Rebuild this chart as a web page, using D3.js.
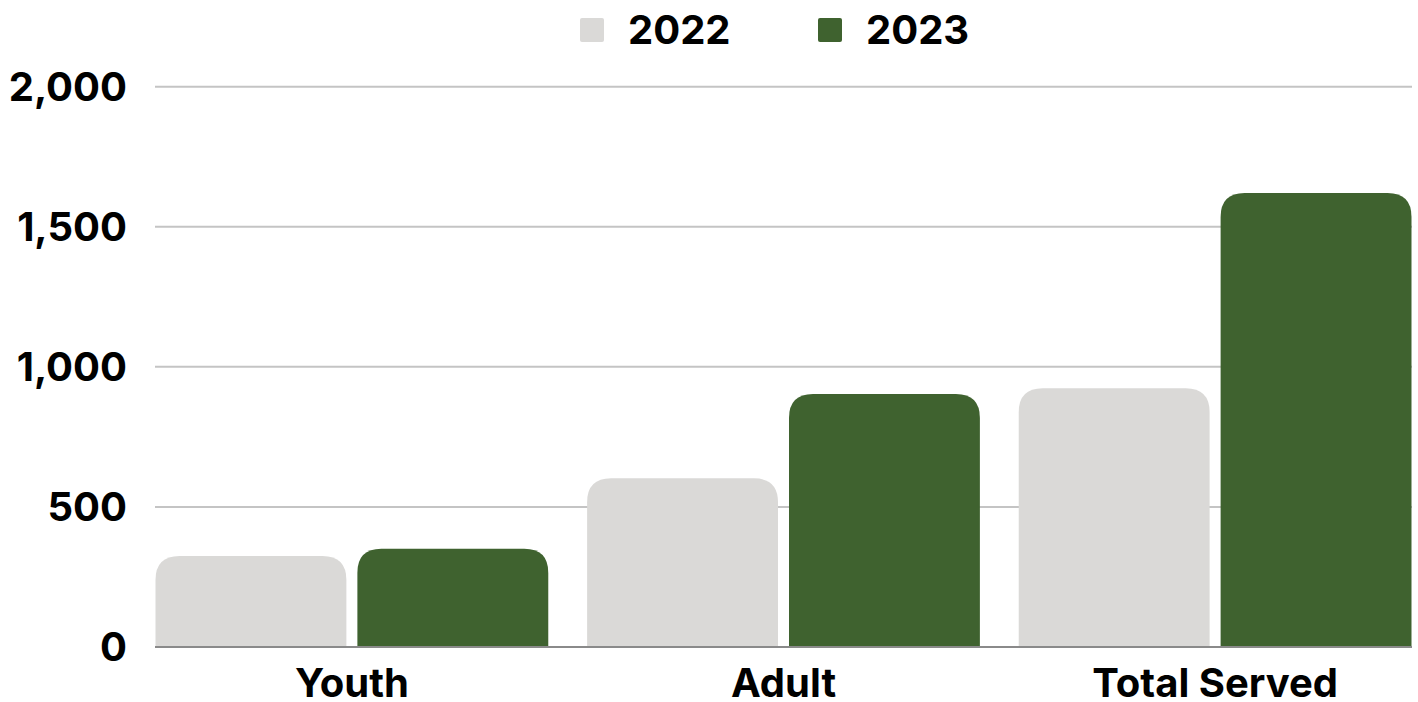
<!DOCTYPE html>
<meta charset="utf-8">
<style>
    body { margin: 0; background: #fff; }
    text { font-family: Inter, "Liberation Sans", sans-serif; font-weight: 700; fill: #000; }
    .grid line { stroke: #c4c4c4; stroke-width: 2px; }
</style>
<body>
<script src="https://d3js.org/d3.v7.min.js"></script>
<script>
    var categories = ["Youth", "Adult", "Total Served"];
    var years = ["2022", "2023"];
    var values2022 = [325, 602, 924];
    var values2023 = [351, 903, 1621];
    var yTicks = [0, 500, 1000, 1500, 2000];
    var colors = { "2022": "#dad9d7", "2023": "#3f622f" };

    var W = 1418, H = 702;
    var svg = d3.select("body").append("svg").attr("width", W).attr("height", H);

    var y = d3.scaleLinear().domain([0, 2000]).range([647, 86.7]);
    var x0 = d3.scaleBand().domain(categories).range([155.5, 1411.5]).paddingInner(0.09).paddingOuter(0);
    var x1 = d3.scaleBand().domain(years).range([0, x0.bandwidth()]).paddingInner(0.0545);

    // gridlines
    svg.append("g").attr("class", "grid")
        .selectAll("line").data(yTicks.slice(1)).join("line")
        .attr("x1", 155).attr("x2", 1412)
        .attr("y1", d => y(d)).attr("y2", d => y(d));

    // y labels
    svg.append("g").selectAll("text").data(yTicks).join("text")
        .attr("x", 127).attr("y", d => y(d))
        .attr("dy", "0.36em")
        .attr("text-anchor", "end")
        .style("font-size", "40px")
        .text(d => d3.format(",")(d));

    var rows = categories.map((c, i) => ({ cat: c, "2022": values2022[i], "2023": values2023[i] }));

    function topRounded(x, yTop, w, h, r) {
        r = Math.min(r, w / 2, h);
        return "M" + x + "," + (yTop + h) +
            "V" + (yTop + r) +
            "Q" + x + "," + yTop + " " + (x + r) + "," + yTop +
            "H" + (x + w - r) +
            "Q" + (x + w) + "," + yTop + " " + (x + w) + "," + (yTop + r) +
            "V" + (yTop + h) + "Z";
    }

    var groups = svg.append("g").selectAll("g").data(rows).join("g")
        .attr("transform", d => "translate(" + x0(d.cat) + ",0)");

    groups.selectAll("path").data(d => years.map(k => ({ key: k, value: d[k] }))).join("path")
        .attr("fill", d => colors[d.key])
        .attr("d", d => topRounded(x1(d.key), y(d.value), x1.bandwidth(), y(0) - y(d.value), 24));

    // baseline
    svg.append("line")
        .attr("x1", 155).attr("x2", 1412)
        .attr("y1", y(0)).attr("y2", y(0))
        .attr("stroke", "#8a8a8a").attr("stroke-width", 2);

    // x labels
    svg.append("g").selectAll("text").data(categories).join("text")
        .attr("x", d => x0(d) + x0.bandwidth() / 2)
        .attr("y", 683)
        .attr("dy", "0.36em")
        .attr("text-anchor", "middle")
        .style("font-size", "40px")
        .text(d => d);

    // legend
    var legendX = [580, 818];
    var leg = svg.append("g").selectAll("g").data(years).join("g")
        .attr("transform", (d, i) => "translate(" + legendX[i] + ",0)");
    leg.append("rect")
        .attr("x", 0).attr("y", 18).attr("width", 24).attr("height", 24).attr("rx", 2)
        .attr("fill", d => colors[d]);
    leg.append("text")
        .attr("x", 48).attr("y", 30).attr("dy", "0.36em")
        .style("font-size", "40px")
        .text(d => d);
</script>
</body>
